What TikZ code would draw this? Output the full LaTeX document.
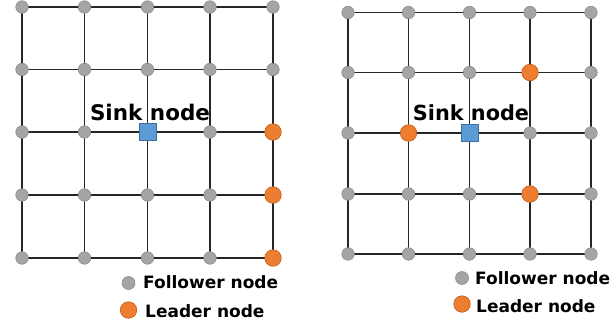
\documentclass[tikz,border=0pt]{standalone}
\usepackage{fontspec}
\setmainfont{DejaVu Sans}
\usetikzlibrary{backgrounds}
\definecolor{fgray}{HTML}{A5A5A5}
\definecolor{fgrayd}{HTML}{8C8C8C}
\definecolor{lorange}{HTML}{ED7D31}
\definecolor{lorangeD}{HTML}{C55A11}
\definecolor{sblue}{HTML}{5B9BD5}
\definecolor{sblueD}{HTML}{41719C}
\definecolor{gline}{HTML}{262626}
\tikzset{
  follower/.style={circle, fill=fgray, draw=fgrayd, line width=0.6pt, inner sep=0pt, minimum size=12.5pt},
  leader/.style={circle, fill=lorange, draw=lorangeD, line width=0.6pt, inner sep=0pt, minimum size=16.5pt},
  sink/.style={rectangle, fill=sblue, draw=sblueD, line width=0.7pt, inner sep=0pt, minimum size=17pt},
  gridline/.style={draw=gline, line width=1.3pt},
  lbl/.style={font=\bfseries, inner sep=0pt},
}
\begin{document}
\begin{tikzpicture}[x=1pt,y=-1pt]
\useasboundingbox (0,0) rectangle (615,327);
% ---- left grid ----
\foreach \i/\x in {1/22,2/84.5,3/147.5,4/210,5/273}{
  \foreach \j/\y in {1/7,2/69.5,3/132,4/195,5/258}{
    \coordinate (Lc-\i-\j) at (\x,\y);
  }
}
\foreach \i in {1,...,5}{\foreach \j in {1,...,5}{
  \node[follower] (L-\i-\j) at (Lc-\i-\j) {};
}}
\node[leader] (LL-5-3) at (Lc-5-3) {};
\node[leader] (LL-5-4) at (Lc-5-4) {};
\node[leader] (LL-5-5) at (Lc-5-5) {};
\node[sink] (LS) at (Lc-3-3) {};
\begin{scope}[on background layer]
\foreach \k in {1,...,5}{
  \draw[gridline] (L-1-\k.center) -- (L-5-\k.center);
  \draw[gridline] (L-\k-1.center) -- (L-\k-5.center);
}
\end{scope}
\node[lbl, font=\fontsize{21.5}{24}\selectfont\bfseries, anchor=base] (Lsink) at (150,120) {Sink node};
% left legend
\node[follower, minimum size=13pt] (Lfol) at (128.5,283) {};
\node[lbl, font=\fontsize{17}{20}\selectfont\bfseries, anchor=base west] (Lfolt) at (143,288.5) {Follower node};
\node[leader] (Llead) at (128.5,310) {};
\node[lbl, font=\fontsize{17}{20}\selectfont\bfseries, anchor=base west] (Lleadt) at (145,317) {Leader node};
% ---- right grid ----
\foreach \i/\x in {1/348,2/408.5,3/469.5,4/530,5/591}{
  \foreach \j/\y in {1/12.5,2/72.5,3/133,4/194,5/254}{
    \coordinate (Rc-\i-\j) at (\x,\y);
  }
}
\foreach \i in {1,...,5}{\foreach \j in {1,...,5}{
  \node[follower] (R-\i-\j) at (Rc-\i-\j) {};
}}
\node[leader] (RL-4-2) at (Rc-4-2) {};
\node[leader] (RL-2-3) at (Rc-2-3) {};
\node[leader] (RL-4-4) at (Rc-4-4) {};
\node[sink] (RS) at (Rc-3-3) {};
\begin{scope}[on background layer]
\foreach \k in {1,...,5}{
  \draw[gridline] (R-1-\k.center) -- (R-5-\k.center);
  \draw[gridline] (R-\k-1.center) -- (R-\k-5.center);
}
\end{scope}
\node[lbl, font=\fontsize{20.8}{24}\selectfont\bfseries, anchor=base] (Rsink) at (471,120) {Sink node};
% right legend
\node[follower, minimum size=13pt] (Rfol) at (462,278) {};
\node[lbl, font=\fontsize{17}{20}\selectfont\bfseries, anchor=base west] (Rfolt) at (475,284.5) {Follower node};
\node[leader] (Rlead) at (462,304) {};
\node[lbl, font=\fontsize{17}{20}\selectfont\bfseries, anchor=base west] (Rleadt) at (476,312) {Leader node};
\end{tikzpicture}
\end{document}
